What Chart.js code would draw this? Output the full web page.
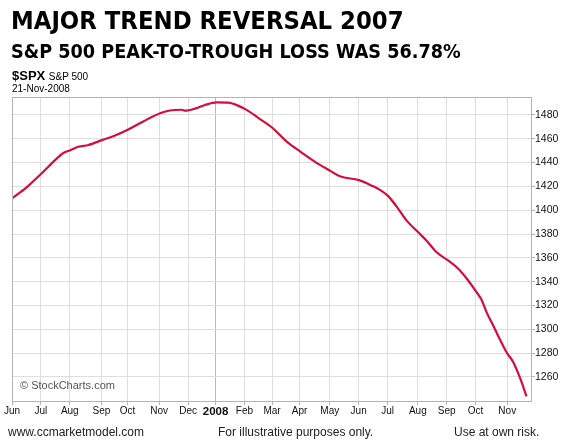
<!DOCTYPE html>
<html>
<head>
<meta charset="utf-8">
<script src="https://cdn.jsdelivr.net/npm/chart.js@4.4.0/dist/chart.umd.min.js"></script>
<style>
  html, body { margin: 0; padding: 0; background: #fff; }
  #wrap { position: relative; width: 566px; height: 443px; overflow: hidden; font-family: "Liberation Sans", Arial, sans-serif; }
  #wrap canvas { position: absolute; left: 0; top: 0; }
  .t { position: absolute; white-space: nowrap; color: #000; }
  #title { left: 11px; top: 7px; font-family: "DejaVu Sans", sans-serif; font-weight: bold; font-size: 24px; line-height: 28px; transform: scaleX(0.951); transform-origin: 0 50%; }
  #subtitle { left: 11px; top: 39px; font-family: "DejaVu Sans", sans-serif; font-weight: bold; font-size: 19px; line-height: 24px; transform: scaleX(0.93); transform-origin: 0 50%; }
  #sym { left: 12px; top: 68px; font-size: 13px; font-weight: bold; line-height: 15px; }
  #sym span { font-weight: normal; font-size: 10px; }
  #date { left: 12px; top: 83px; font-size: 10px; line-height: 12px; }
  #wm { left: 20px; top: 378px; font-size: 11px; color: #555; line-height: 14px; }
  .foot { top: 425px; font-size: 12px; color: #222; line-height: 14px; }
  #f1 { left: 8px; }
  #f2 { left: 218px; }
  #f3 { left: 454px; }
</style>
</head>
<body>
<div id="wrap">
  <canvas id="c" width="566" height="443"></canvas>
  <div class="t" id="title">MAJOR TREND REVERSAL 2007</div>
  <div class="t" id="subtitle">S&amp;P 500 PEAK-TO-TROUGH LOSS WAS 56.78%</div>
  <div class="t" id="sym">$SPX <span>S&amp;P 500</span></div>
  <div class="t" id="date">21-Nov-2008</div>
  <div class="t" id="wm">© StockCharts.com</div>
  <div class="t foot" id="f1">www.ccmarketmodel.com</div>
  <div class="t foot" id="f2">For illustrative purposes only.</div>
  <div class="t foot" id="f3">Use at own risk.</div>
</div>
<script>
// Trading-day index since 1-Jun-2007
const dayIndex = [0, 10.4, 21.6, 31.3, 37.3, 42.7, 48.2, 55.5, 65.9, 73.6, 84.5, 95.4, 108.1, 114.8, 123.4, 125.8, 133, 140.3, 148.8, 157.2, 169.9, 179, 189.2, 199.7, 210.1, 220.3, 231.7, 238.4, 252.2, 261.5, 267.5, 273.5, 279.6, 286.9, 295.3, 301.4, 308.7, 316.7, 324.4, 330.5, 337.8, 341.4, 345.1, 349.9, 354.7, 359.6, 364.4, 369.3, 374];
const spxValues = [1410, 1419, 1431, 1442, 1448, 1450.5, 1453.2, 1454.7, 1459, 1462, 1467.7, 1474.5, 1481.5, 1483.7, 1484.3, 1483.5, 1485.2, 1488.3, 1490.5, 1490.2, 1484.6, 1477.5, 1469.2, 1457.6, 1448.8, 1440.6, 1432.8, 1428.4, 1425.2, 1420.6, 1417, 1411.8, 1403, 1391.2, 1381.4, 1374.4, 1364.7, 1358, 1350.9, 1342.7, 1331, 1324.6, 1314, 1303, 1291.4, 1280.5, 1272.4, 1259.2, 1243.8];
// Month start positions (trading-day index) and labels
const monthStarts = [0, 21, 42, 65, 84, 107, 128, 148, 169, 189, 209, 231, 252, 273, 295, 316, 337, 360];
const monthLabels = ['Jun','Jul','Aug','Sep','Oct','Nov','Dec','2008','Feb','Mar','Apr','May','Jun','Jul','Aug','Sep','Oct','Nov'];
const yTicks = [1260, 1280, 1300, 1320, 1340, 1360, 1380, 1400, 1420, 1440, 1460, 1480];

const points = dayIndex.map((d, i) => ({ x: d, y: spxValues[i] }));
const yearIdx = monthLabels.indexOf('2008');

const frame = {
  id: 'frame',
  afterDraw(chart) {
    const { ctx, chartArea: a } = chart;
    ctx.save();
    ctx.strokeStyle = '#b4b4b4';
    ctx.lineWidth = 1;
    ctx.strokeRect(Math.round(a.left) + 0.5, Math.round(a.top) + 0.5, Math.round(a.right - a.left) - 1, Math.round(a.bottom - a.top) - 1);
    ctx.restore();
  }
};

new Chart(document.getElementById('c'), {
  type: 'line',
  data: {
    datasets: [{
      data: points,
      borderColor: 'rgb(214, 12, 58)',
      borderWidth: 2.2,
      pointRadius: 0,
      cubicInterpolationMode: 'monotone',
      fill: false
    }]
  },
  options: {
    responsive: false,
    animation: false,
    devicePixelRatio: 1,
    layout: { padding: { left: 12, top: 97, right: 0, bottom: 0 } },
    plugins: { legend: { display: false }, tooltip: { enabled: false } },
    scales: {
      x: {
        type: 'linear',
        min: 0,
        max: 378,
        afterBuildTicks(scale) { scale.ticks = monthStarts.map(v => ({ value: v })); },
        afterFit(scale) { scale.height = 41; },
        border: { display: false },
        grid: {
          color: (c) => (c.tick && c.tick.value === monthStarts[yearIdx]) ? '#b8b8b8' : '#dedede',
          tickColor: '#b4b4b4',
          tickLength: 3,
          lineWidth: 1
        },
        ticks: {
          autoSkip: false,
          maxRotation: 0,
          padding: 0,
          color: '#111',
          font: (c) => (c.tick && c.tick.value === monthStarts[yearIdx])
            ? { family: 'Liberation Sans', size: 11.5, weight: 'bold' }
            : { family: 'Liberation Sans', size: 10 },
          callback: (v) => { const i = monthStarts.indexOf(v); return i >= 0 ? monthLabels[i] : ''; }
        }
      },
      y: {
        type: 'linear',
        position: 'right',
        min: 1239,
        max: 1495,
        afterBuildTicks(scale) { scale.ticks = yTicks.map(v => ({ value: v })); },
        afterFit(scale) { scale.width = 34; },
        border: { display: false },
        grid: {
          color: '#dedede',
          tickColor: '#b4b4b4',
          tickLength: 3,
          lineWidth: 1
        },
        ticks: {
          padding: 0,
          color: '#111',
          font: { family: 'Liberation Sans', size: 10.5 },
          callback: (v) => String(v)
        }
      }
    }
  },
  plugins: [frame]
});
</script>
</body>
</html>
